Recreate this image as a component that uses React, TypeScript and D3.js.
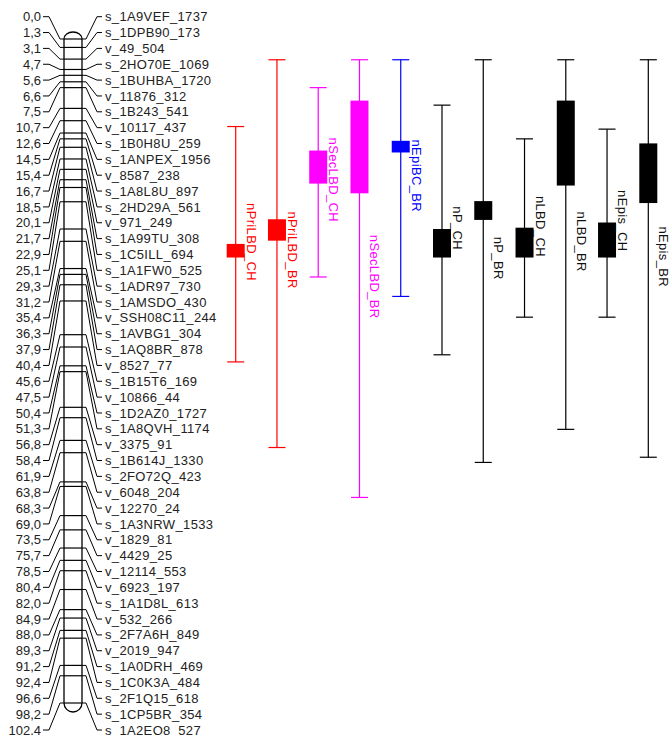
import React from "react";
import * as d3 from "d3";

const positions: number[] = [
  0.0, 1.3, 3.1, 4.7, 5.6, 6.6, 7.5, 10.7, 12.6, 14.5, 15.4, 16.7, 18.5, 20.1, 21.7, 22.9,
  25.1, 29.3, 31.2, 35.4, 36.3, 37.9, 40.4, 45.6, 47.5, 50.4, 51.3, 56.8, 58.4, 61.9, 63.8,
  68.3, 69.0, 73.5, 75.7, 78.5, 80.4, 82.0, 84.9, 88.0, 89.3, 91.2, 92.4, 96.6, 98.2, 102.4,
];

const markers: string[] = [
  "s_1A9VEF_1737", "s_1DPB90_173", "v_49_504", "s_2HO70E_1069", "s_1BUHBA_1720",
  "v_11876_312", "s_1B243_541", "v_10117_437", "s_1B0H8U_259", "s_1ANPEX_1956",
  "v_8587_238", "s_1A8L8U_897", "s_2HD29A_561", "v_971_249", "s_1A99TU_308",
  "s_1C5ILL_694", "s_1A1FW0_525", "s_1ADR97_730", "s_1AMSDO_430", "v_SSH08C11_244",
  "s_1AVBG1_304", "s_1AQ8BR_878", "v_8527_77", "s_1B15T6_169", "v_10866_44",
  "s_1D2AZ0_1727", "s_1A8QVH_1174", "v_3375_91", "s_1B614J_1330", "s_2FO72Q_423",
  "v_6048_204", "v_12270_24", "s_1A3NRW_1533", "v_1829_81", "v_4429_25",
  "v_12114_553", "v_6923_197", "s_1A1D8L_613", "v_532_266", "s_2F7A6H_849",
  "v_2019_947", "s_1A0DRH_469", "s_1C0K3A_484", "s_2F1Q15_618", "s_1CP5BR_354",
  "s_1A2EQ8_527",
];

const qtlNames: string[] = [
  "nPriLBD_CH", "nPriLBD_BR", "nSecLBD_CH", "nSecLBD_BR", "nEpiBC_BR",
  "nP_CH", "nP_BR", "nLBD_CH", "nLBD_BR", "nEpis_CH", "nEpis_BR",
];
const qtlColors: string[] = [
  "#ff0000", "#ff0000", "#ff00ff", "#ff00ff", "#0000ff",
  "#000000", "#000000", "#000000", "#000000", "#000000", "#000000",
];
const outerStart: number[] = [13.5, 3.2, 7.5, 3.2, 3.2, 10.2, 3.2, 15.4, 3.2, 13.9, 3.2];
const innerStart: number[] = [31.6, 27.8, 17.2, 9.5, 15.7, 29.3, 25.0, 29.1, 9.5, 28.3, 16.1];
const innerEnd: number[] = [33.7, 31.1, 22.3, 23.8, 17.5, 33.7, 27.9, 33.7, 22.6, 33.7, 25.3];
const outerEnd: number[] = [49.8, 63.0, 36.7, 70.7, 39.7, 48.7, 65.3, 42.9, 60.2, 42.9, 64.5];
const labelAt: number[] = [25.3, 26.6, 15.2, 30.2, 15.5, 25.8, 30.5, 24.2, 26.6, 23.3, 28.9];

const W = 669;
const H = 735;
const FONT = "'Liberation Sans', Arial, sans-serif";

export default function App() {
  const y = d3.scaleLinear().domain([0, 102.4]).range([39, 703]);
  const labelY = d3
    .scaleLinear()
    .domain([0, markers.length - 1])
    .range([16.7, 730]);
  const qx = d3.scalePoint<string>().domain(qtlNames).range([235.7, 648.3]);
  const fmt = (v: number) => d3.format(".1f")(v).replace(".", ",");
  const line = d3.line<[number, number]>();

  const cL = 64;
  const cR = 82;
  const topY = y(0);
  const botY = y(102.4);
  const cw = cR - cL;

  const chromPath =
    `M${cL},${topY} A${cw / 2},7 0 0 1 ${cR},${topY} L${cR},${botY} ` +
    `A${cw / 2},9 0 0 1 ${cL},${botY} Z`;

  return (
    <svg
      width={W}
      height={H}
      style={{ position: "absolute", left: 0, top: 0, background: "#fff" }}
    >
      <rect x={0} y={0} width={W} height={H} fill="#fff" />
      {/* chromosome */}
      <path d={chromPath} fill="#fff" stroke="#000" strokeWidth={1.3} />
      {positions.map((p, i) => (
        <line
          key={"m" + i}
          x1={cL}
          x2={cR}
          y1={y(p)}
          y2={y(p)}
          stroke="#000"
          strokeWidth={1.2}
        />
      ))}
      {/* connectors and labels */}
      {positions.map((p, i) => {
        const ly = labelY(i);
        const my = y(p);
        return (
          <g key={"c" + i}>
            <path
              d={line([[43, ly], [49, ly], [60, my], [cL, my]]) || ""}
              fill="none"
              stroke="#000"
              strokeWidth={1}
            />
            <path
              d={line([[cR, my], [86, my], [97, ly], [102, ly]]) || ""}
              fill="none"
              stroke="#000"
              strokeWidth={1}
            />
            <text
              x={41}
              y={ly + 4.6}
              textAnchor="end"
              fontFamily={FONT}
              fontSize={13}
              fill="#222"
            >
              {fmt(p)}
            </text>
            <text
              x={105}
              y={ly + 4.6}
              fontFamily={FONT}
              fontSize={13}
              letterSpacing={0.35}
              fill="#222"
            >
              {markers[i]}
            </text>
          </g>
        );
      })}
      {/* QTLs */}
      {qtlNames.map((n, i) => {
        const x = qx(n) as number;
        const c = qtlColors[i];
        const y0 = y(outerStart[i]);
        const y1 = y(outerEnd[i]);
        const b0 = y(innerStart[i]);
        const b1 = y(innerEnd[i]);
        const ly = y(labelAt[i]);
        const lx = x + 11;
        return (
          <g key={n}>
            <line x1={x} x2={x} y1={y0} y2={y1} stroke={c} strokeWidth={1.2} />
            <line x1={x - 8.5} x2={x + 8.5} y1={y0} y2={y0} stroke={c} strokeWidth={1.2} />
            <line x1={x - 8.5} x2={x + 8.5} y1={y1} y2={y1} stroke={c} strokeWidth={1.2} />
            <rect x={x - 9} y={b0} width={18} height={b1 - b0} fill={c} />
            <text
              transform={`translate(${lx},${ly}) rotate(90)`}
              fontFamily={FONT}
              fontSize={13}
              letterSpacing={0.35}
              fill={c === "#000000" ? "#111" : c}
            >
              {n}
            </text>
          </g>
        );
      })}
    </svg>
  );
}
